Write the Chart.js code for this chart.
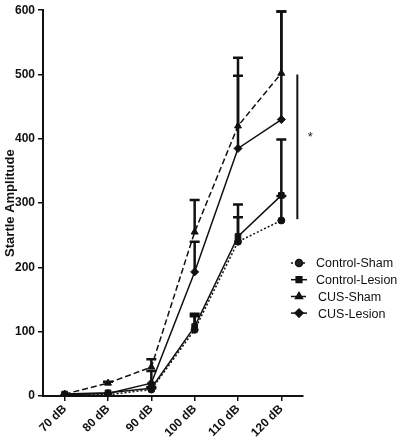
<!DOCTYPE html>
<html>
<head>
<meta charset="utf-8">
<script src="https://cdn.jsdelivr.net/npm/chart.js@4"></script>
<style>
  html, body { margin: 0; padding: 0; background: #fff; }
  #wrap { width: 397px; height: 438px; position: relative; }
</style>
</head>
<body>
<div id="wrap"><canvas id="startleChart" width="397" height="438"></canvas></div>
<script>
// values
var categories = ['70 dB', '80 dB', '90 dB', '100 dB', '110 dB', '120 dB'];
var seriesNames = ['Control-Sham', 'Control-Lesion', 'CUS-Sham', 'CUS-Lesion'];

var controlSham   = [2, 2, 10, 103, 240, 273];
var controlLesion = [3, 5, 12, 108, 248, 312];
var cusSham       = [3, 20, 45, 255, 420, 502];
var cusLesion     = [2, 4, 20, 193, 385, 430];

// top of the error bar (mean + SEM)
var controlShamErr   = [3, 3, 12, 124, 278, 311];
var controlLesionErr = [4, 6, 14, 128, 298, 399];
var cusShamErr       = [4, 22, 57, 305, 526, 598];
var cusLesionErr     = [3, 5, 39, 240, 498, 598];

var yTicks = [0, 100, 200, 300, 400, 500, 600];

var FONT = '"Liberation Sans", Arial, sans-serif';

var errorBars = {
    id: 'errorBars',
    afterDatasetsDraw: function (chart) {
        var ctx = chart.ctx;
        var yScale = chart.scales.y;
        ctx.save();
        ctx.strokeStyle = '#111';
        ctx.lineWidth = 2.5;
        chart.data.datasets.forEach(function (ds, i) {
            var meta = chart.getDatasetMeta(i);
            meta.data.forEach(function (pt, j) {
                var top = yScale.getPixelForValue(ds.errTop[j]);
                if (pt.y - top < 1) return;
                ctx.beginPath();
                ctx.moveTo(pt.x, pt.y);
                ctx.lineTo(pt.x, top);
                ctx.moveTo(pt.x - 5, top);
                ctx.lineTo(pt.x + 5, top);
                ctx.stroke();
            });
        });
        ctx.restore();
    }
};

// significance bar, asterisk and the legend with line samples
var extras = {
    id: 'extras',
    afterDraw: function (chart) {
        var ctx = chart.ctx;
        var x = chart.scales.x, y = chart.scales.y;
        ctx.save();
        ctx.strokeStyle = '#111';
        ctx.lineWidth = 2;
        var bx = x.getPixelForValue(5) + 16;
        ctx.beginPath();
        ctx.moveTo(bx, y.getPixelForValue(500));
        ctx.lineTo(bx, y.getPixelForValue(275));
        ctx.stroke();
        ctx.fillStyle = '#222';
        ctx.font = '13px ' + FONT;
        ctx.textAlign = 'center';
        ctx.textBaseline = 'middle';
        ctx.fillText('*', bx + 13, y.getPixelForValue(402));

        // legend
        var ly = 263;
        chart.data.datasets.forEach(function (ds, i) {
            var yy = ly + i * 16.7;
            ctx.strokeStyle = '#111';
            ctx.lineWidth = 1.5;
            ctx.setLineDash(ds.borderDash || []);
            ctx.beginPath();
            ctx.moveTo(291, yy);
            ctx.lineTo(307, yy);
            ctx.stroke();
            ctx.setLineDash([]);
            Chart.helpers.drawPoint(ctx, {
                pointStyle: ds.pointStyle,
                radius: ds.pointRadius,
                borderWidth: 1
            }, 299, yy);
            ctx.fillStyle = '#111';
            ctx.textAlign = 'left';
            ctx.font = '12.5px ' + FONT;
            ctx.fillText(ds.label, i < 2 ? 316 : 318, yy + 1);
        });
        ctx.restore();
    }
};

function makeSet(label, values, errTop, style, dash, radius) {
    return {
        label: label,
        data: values,
        errTop: errTop,
        borderColor: '#111',
        backgroundColor: '#111',
        pointBackgroundColor: '#111',
        pointBorderColor: '#111',
        borderWidth: 1.5,
        borderDash: dash,
        pointStyle: style,
        pointRadius: radius,
        pointBorderWidth: 1,
        tension: 0,
        fill: false
    };
}

var ctx = document.getElementById('startleChart');

var myChart = new Chart(ctx, {
    type: 'line',
    data: {
        labels: categories,
        datasets: [
            makeSet(seriesNames[0], controlSham, controlShamErr, 'circle', [2, 2], 3.5),
            makeSet(seriesNames[1], controlLesion, controlLesionErr, 'rect', [], 4),
            makeSet(seriesNames[2], cusSham, cusShamErr, 'triangle', [6, 3], 4),
            makeSet(seriesNames[3], cusLesion, cusLesionErr, 'rectRot', [], 4)
        ]
    },
    options: {
        responsive: false,
        animation: false,
        layout: { padding: { top: 6, right: 94, left: 0, bottom: 0 } },
        plugins: {
            legend: { display: false },
            tooltip: { enabled: false }
        },
        scales: {
            x: {
                offset: true,
                grid: { display: true, drawOnChartArea: false, offset: false, color: '#111', tickLength: 5, lineWidth: 1.5 },
                border: { display: true, color: '#111', width: 2 },
                ticks: {
                    color: '#111',
                    font: { family: FONT, size: 12, weight: 'bold' },
                    minRotation: 45,
                    maxRotation: 45,
                    padding: 1
                },
                afterFit: function (s) { s.height = 42; }
            },
            y: {
                min: 0,
                max: 600,
                afterBuildTicks: function (s) {
                    s.ticks = yTicks.map(function (v) { return { value: v }; });
                },
                grid: { display: true, drawOnChartArea: false, color: '#111', tickLength: 5, lineWidth: 1.5 },
                border: { display: true, color: '#111', width: 2 },
                ticks: {
                    color: '#111',
                    font: { family: FONT, size: 12, weight: 'bold' },
                    padding: 3
                },
                title: {
                    display: true,
                    text: 'Startle Amplitude',
                    color: '#111',
                    font: { family: FONT, size: 13, weight: 'bold' },
                    padding: { top: 3, bottom: 0 }
                },
                afterFit: function (s) { s.width = 43; }
            }
        }
    },
    plugins: [errorBars, extras]
});
</script>
</body>
</html>
